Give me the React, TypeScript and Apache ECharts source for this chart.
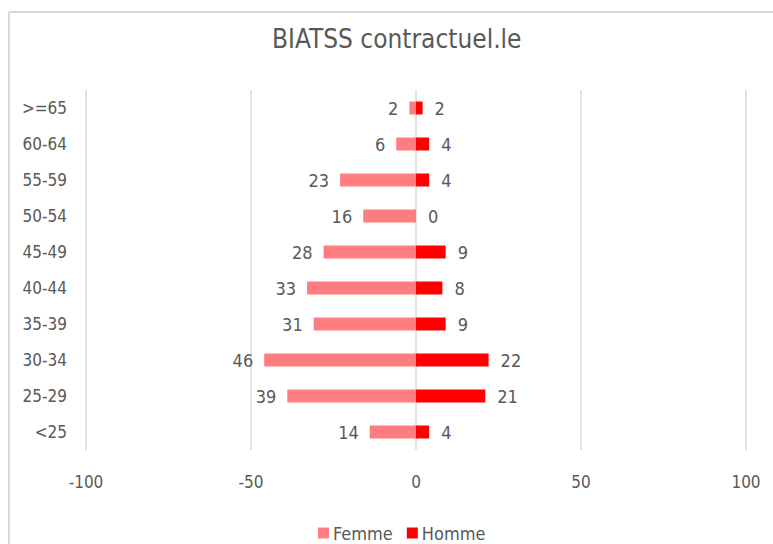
import React, { useEffect, useRef } from "react";
import * as echarts from "echarts";

const categories = ["<25", "25-29", "30-34", "35-39", "40-44", "45-49", "50-54", "55-59", "60-64", ">=65"];
const femme = [14, 39, 46, 31, 33, 28, 16, 23, 6, 2];
const homme = [4, 21, 22, 9, 8, 9, 0, 4, 4, 2];
const xTicks = { min: -100, max: 100, interval: 50 };

const FONT = "'DejaVu Sans Condensed', 'Liberation Sans Narrow', 'Open Sans', sans-serif";
const GREY = "#595959";

export default function App() {
  const ref = useRef<HTMLDivElement>(null);
  useEffect(() => {
    if (!ref.current) return;
    const chart = echarts.init(ref.current, undefined, { renderer: "svg" });
    chart.setOption({
      animation: false,
      textStyle: { fontFamily: FONT },
      title: {
        text: "BIATSS contractuel.le",
        left: 267,
        top: 21,
        textStyle: { fontFamily: FONT, fontSize: 26, fontWeight: "normal", color: GREY },
      },
      graphic: [
        { type: "line", shape: { x1: 9, y1: 12, x2: 9, y2: 544 }, style: { stroke: "#d9d9d9", lineWidth: 2 } },
        { type: "line", shape: { x1: 9, y1: 12, x2: 773, y2: 12 }, style: { stroke: "#d9d9d9", lineWidth: 2 } },
      ],
      legend: {
        bottom: -3,
        left: 313,
        itemWidth: 11,
        itemHeight: 11,
        itemGap: 14,
        icon: "rect",
        textStyle: { fontFamily: FONT, fontSize: 18, color: GREY, padding: [0, 0, 0, -1] },
        data: ["Femme", "Homme"],
      },
      grid: { left: 86, right: 27, top: 90, bottom: 94, containLabel: false },
      xAxis: {
        type: "value",
        min: xTicks.min,
        max: xTicks.max,
        interval: xTicks.interval,
        axisLine: { show: false },
        axisTick: { show: false },
        splitLine: { show: true, lineStyle: { color: "#d9d9d9", width: 1.5 } },
        axisLabel: { color: GREY, fontSize: 17, margin: 23, fontFamily: FONT },
      },
      yAxis: {
        type: "category",
        data: categories,
        axisLine: { show: false },
        axisTick: { show: false },
        axisLabel: { color: GREY, fontSize: 17, margin: 19, fontFamily: FONT },
      },
      series: [
        {
          name: "Femme",
          type: "bar",
          barWidth: 13,
          barGap: "-100%",
          itemStyle: { color: "#FF7C80" },
          label: {
            show: true,
            position: "left",
            distance: 11,
            color: GREY,
            fontSize: 18,
            fontFamily: FONT,
            formatter: (p: any) => String(Math.abs(p.value)),
          },
          data: femme.map((v) => -v),
        },
        {
          name: "Homme",
          type: "bar",
          barWidth: 13,
          barGap: "-100%",
          itemStyle: { color: "#FF0000" },
          label: {
            show: true,
            position: "right",
            distance: 12,
            color: GREY,
            fontSize: 18,
            fontFamily: FONT,
          },
          data: homme,
        },
      ],
    });
    return () => chart.dispose();
  }, []);
  return (
    <div
      ref={ref}
      style={{ position: "absolute", left: 0, top: 0, width: 773, height: 544, background: "#fff" }}
    />
  );
}
